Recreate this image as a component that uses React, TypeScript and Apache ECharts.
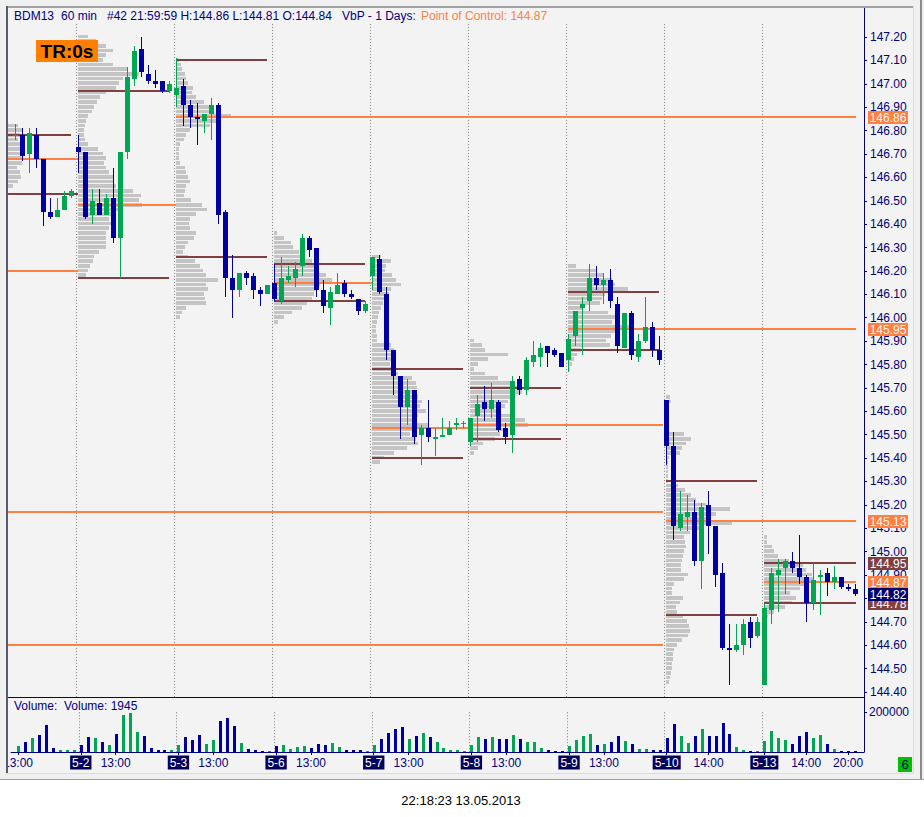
import React, { useEffect, useRef } from 'react';
import * as echarts from 'echarts';

const FONT = '"Liberation Sans", Arial, sans-serif';
const GREEN = '#00a651';
const BLUE = '#0000a0';
const ORANGE = '#ff8040';
const BROWN = '#804040';
const NAVY = '#000080';
const PROFILE_GREY = '#c4c4c4';

// ---- candles (60 min), 5-1 13:00 .. 5-13 21:00 ----
const OPEN = [146.78,146.78,146.70,146.78,146.68,146.45,146.43,146.46,146.52,
146.73,146.71,146.44,146.49,146.44,146.51,146.34,146.71,147.02,147.15,147.04,147.01,147.01,146.97,
146.95,146.99,146.91,146.86,146.84,146.87,146.91,146.45,146.17,146.12,146.19,146.18,146.12,146.10,
146.15,146.07,146.16,146.17,146.22,146.34,146.30,146.12,146.04,146.10,146.15,146.10,146.08,146.03,
146.18,146.25,146.10,145.86,145.75,145.62,145.69,145.50,145.53,145.48,145.49,145.50,145.54,145.55,
145.47,145.58,145.64,145.61,145.64,145.53,145.50,145.74,145.69,145.81,145.83,145.88,145.86,145.85,
145.82,145.92,146.04,146.07,146.17,146.14,146.16,146.06,145.87,146.02,145.83,145.90,145.96,145.86,
145.65,145.45,145.10,145.15,145.17,144.96,145.20,145.11,144.91,144.59,144.58,144.60,144.70,144.64,
144.43,144.75,144.90,144.93,144.96,144.93,144.89,144.78,144.89,144.91,144.87,144.89,144.85,144.84];
const HIGH = [146.83,146.81,146.81,146.81,146.68,146.51,146.51,146.54,146.55,
146.78,146.71,146.55,146.55,146.53,146.64,146.71,147.07,147.16,147.20,147.08,147.06,147.01,147.01,
147.11,147.02,146.93,146.92,146.87,146.94,146.92,146.46,146.27,146.19,146.20,146.19,146.13,146.14,
146.23,146.26,146.22,146.24,146.36,146.35,146.30,146.16,146.13,146.19,146.16,146.12,146.08,146.07,
146.26,146.27,146.13,145.86,145.75,145.74,145.69,145.54,145.65,145.53,145.57,145.56,145.57,145.56,
145.57,145.67,145.71,145.72,145.65,145.55,145.75,145.75,145.83,145.90,145.89,145.88,145.87,145.85,
145.93,146.03,146.09,146.23,146.22,146.19,146.21,146.09,146.02,146.03,145.93,146.09,145.98,145.92,
145.65,145.51,145.26,145.24,145.22,145.21,145.26,145.11,144.95,144.69,144.69,144.71,144.72,144.72,
144.78,144.93,144.97,144.97,145.00,145.07,144.90,144.95,144.92,144.93,144.94,144.89,144.86,144.86];
const LOW = [146.76,146.67,146.62,146.64,146.39,146.42,146.43,146.46,146.51,
146.62,146.42,146.40,146.44,146.44,146.32,146.17,146.68,146.99,147.03,147.00,146.98,146.96,146.96,
146.90,146.82,146.81,146.74,146.79,146.76,146.40,146.09,146.00,146.09,146.14,146.08,146.05,146.10,
146.07,146.06,146.15,146.13,146.18,146.26,146.09,146.02,145.97,146.10,146.09,146.08,146.01,146.02,
146.12,146.10,145.82,145.67,145.48,145.54,145.46,145.37,145.47,145.41,145.49,145.50,145.52,145.53,
145.45,145.47,145.56,145.57,145.51,145.46,145.42,145.67,145.67,145.79,145.79,145.79,145.83,145.79,
145.77,145.88,145.84,146.03,146.12,146.06,146.04,145.85,145.87,145.82,145.81,145.89,145.83,145.80,
145.37,145.05,145.09,145.09,144.94,144.84,144.99,144.85,144.58,144.43,144.57,144.56,144.59,144.63,
144.43,144.69,144.74,144.82,144.91,144.86,144.70,144.75,144.73,144.81,144.84,144.84,144.83,144.81];
const CLOSE = [146.78,146.69,146.79,146.68,146.45,146.43,146.46,146.52,146.54,
146.71,146.43,146.50,146.44,146.51,146.34,146.71,147.03,147.14,147.05,147.01,147.00,146.97,147.00,
146.98,146.91,146.86,146.85,146.87,146.91,146.44,146.17,146.12,146.19,146.17,146.12,146.10,146.14,
146.08,146.17,146.18,146.21,146.34,146.29,146.12,146.05,146.11,146.14,146.10,146.09,146.03,146.06,
146.26,146.11,145.86,145.75,145.62,145.69,145.49,145.53,145.49,145.49,145.50,145.53,145.55,145.55,
145.57,145.63,145.61,145.65,145.52,145.49,145.73,145.69,145.82,145.84,145.87,145.85,145.84,145.79,
145.91,146.03,146.06,146.17,146.14,146.16,146.07,145.88,146.02,145.84,145.90,145.96,145.86,145.82,
145.45,145.11,145.16,145.17,144.96,145.19,145.11,144.90,144.59,144.58,144.60,144.69,144.63,144.70,
144.76,144.91,144.92,144.96,144.93,144.89,144.78,144.88,144.90,144.87,144.89,144.85,144.84,144.82];
const VOLUME = [32000,52000,72000,87000,137000,22000,8000,8000,8000,
37000,77000,72000,52000,37000,92000,187000,197000,102000,82000,22000,12000,12000,8000,
37000,77000,62000,87000,42000,62000,157000,172000,132000,47000,17000,12000,7000,7000,
32000,37000,17000,27000,32000,22000,42000,37000,47000,27000,12000,12000,12000,7000,
37000,67000,97000,117000,127000,67000,82000,97000,77000,52000,22000,12000,8000,7000,
37000,77000,67000,77000,67000,67000,87000,67000,52000,52000,22000,12000,7000,7000,
32000,62000,82000,92000,37000,42000,52000,82000,57000,42000,17000,17000,12000,12000,
72000,142000,82000,47000,82000,117000,82000,82000,147000,92000,27000,12000,7000,7000,
57000,107000,72000,62000,42000,82000,102000,72000,87000,42000,17000,7000,7000,7000];

// ---- days ----
const DAY_NAMES = ['5-1','5-2','5-3','5-6','5-7','5-8','5-9','5-10','5-13'];
const DAY_FIRST_BAR = [0, 9, 23, 37, 51, 65, 79, 93, 107];

// ---- time axis labels ----
const TIME_LABEL_BARS = [0, 9, 14, 23, 28, 37, 42, 51, 56, 65, 70, 79, 84, 93, 99, 107, 113, 119];
const TIME_LABEL_TEXTS = ['13:00','5-2','13:00','5-3','13:00','5-6','13:00','5-7','13:00','5-8','13:00','5-9','13:00','5-10','14:00','5-13','14:00','20:00'];
const PRICE_TICKS = [144.4,144.5,144.6,144.7,144.8,144.9,145.0,145.1,145.2,145.3,145.4,145.5,145.6,145.7,145.8,145.9,146.0,146.1,146.2,146.3,146.4,146.5,146.6,146.7,146.8,146.9,147.0,147.1,147.2];
const VOLUME_TICKS = [200000];

// ---- volume profile per day (hundreds of contracts per 0.02 level, from top price down) ----
const PROFILE_STEP = 0.02;
const PROFILE_TOP = [146.82, 147.20, 147.10, 146.36, 146.26, 145.90, 146.22, 145.66, 145.06];
const PROFILE_5_1 = [10,14,12,10,12,14,13,15,14,9,12,13,10,5];
const PROFILE_5_2 = [10,18,28,35,28,25,35,50,61,45,41,38,28,22,19,16,14,10,8,7,6,6,7,10,20,25,28,26,28,31,35,35,38,55,63,61,64,45,38,31,35,31,28,28,28,28,21,16,15,12,10,8];
const PROFILE_5_3 = [3,5,6,9,10,12,17,16,20,28,33,36,55,40,34,14,10,8,4,3,3,3,4,9,10,12,14,10,9,8,15,26,31,20,14,13,14,20,18,12,9,7,12,19,24,27,30,42,30,32,28,29,30,10,6,4];
const PROFILE_5_6 = [3,10,17,19,25,30,38,45,40,52,58,46,42,40,38,33,28,18,10,4];
const PROFILE_5_7 = [9,19,14,13,20,24,29,19,17,16,11,9,7,6,5,4,4,5,5,19,22,20,24,18,20,26,40,44,45,44,46,50,48,54,46,44,56,42,38,44,46,35,22,12,8];
const PROFILE_5_8 = [4,12,15,38,18,8,4,15,28,40,52,52,42,38,35,31,45,55,58,35,30,25,13,8,4];
const PROFILE_5_9 = [8,28,35,44,47,60,37,34,32,14,40,47,44,62,50,43,38,42,13,9,6,4,2];
const PROFILE_5_10 = [4,5,2,1,1,1,1,1,18,25,20,16,14,3,2,2,2,2,2,12,19,25,30,40,64,50,40,66,34,24,18,19,20,18,17,16,15,15,22,18,8,6,6,17,14,10,11,17,21,23,24,22,16,11,8,7,7,6,6,5,4,3];
const PROFILE_5_13 = [3,3,8,10,14,25,39,42,48,50,45,36,26,32,28,21,10,4];
const PROFILES = [PROFILE_5_1, PROFILE_5_2, PROFILE_5_3, PROFILE_5_6, PROFILE_5_7, PROFILE_5_8, PROFILE_5_9, PROFILE_5_10, PROFILE_5_13];

// ---- levels: POC (0) and value area high/low (1), from bar to bar ----
const LEVEL_PRICE = [146.68,146.20,146.78,146.53,145.17,144.60,146.97,146.17,146.48,147.10,146.26,146.86,146.23,146.07,146.15,145.78,145.40,145.53,145.70,145.48,145.54,146.11,145.86,145.95,145.30,144.73,145.13,144.95,144.78,144.87];
const LEVEL_KIND  = [0,0,1,1,0,0,1,1,0,1,1,0,1,1,0,1,1,0,1,1,0,1,1,0,1,1,0,1,1,0];
const LEVEL_FROM  = [-1,-1,-1,-1,-1,-1,9,9,9,23,23,23,37,37,37,51,51,51,65,65,65,79,79,79,93,93,93,107,107,107];
const LEVEL_TO    = [9,9,8,9,92.6,92.6,22,22,23,36,36,120.1,50,50,51,64,64,65,78,78,92.6,92,92,120.1,106,106,120.1,120.1,120.1,120.1];

// ---- right scale tags: 0 POC, 1 value area, 2 last price ----
const TAG_PRICE = [146.86, 145.95, 145.13, 144.95, 144.87, 144.78, 144.82];
const TAG_KIND = [0, 0, 0, 1, 0, 1, 2];

const X_MIN = -1;
const X_MAX = 121.2857;
const P_MIN = 144.3786;
const P_MAX = 147.324;
const V_MAX = 276500;

export default function App() {
  const ref = useRef<HTMLDivElement>(null);
  useEffect(() => {
    if (!ref.current) return;
    const chart = echarts.init(ref.current, undefined, { renderer: 'svg' });

    const candleData = OPEN.map((o, i) => [i, o, CLOSE[i], LOW[i], HIGH[i]]);
    const volData = VOLUME.map((v, i) => [i, v, CLOSE[i] >= OPEN[i] ? 1 : 0]);
    const profileData: number[][] = [];
    PROFILES.forEach((arr, d) => {
      const start = d === 0 ? X_MIN : DAY_FIRST_BAR[d];
      arr.forEach((v, k) => profileData.push([start, PROFILE_TOP[d] - PROFILE_STEP * k, v]));
    });
    const levelData = LEVEL_PRICE.map((p, i) => [LEVEL_FROM[i], p, LEVEL_TO[i], LEVEL_KIND[i]]);
    const sepData = DAY_FIRST_BAR.slice(1).map((b) => [b - 0.32, 0]);
    const tagData = TAG_PRICE.map((p, i) => [X_MAX, p, TAG_KIND[i]]);

    const txt = (text: string, x: number, y: number, fill: string, size = 12, extra: any = {}) => ({
      type: 'text', z: 100,
      style: { text, x, y, fill, font: `${extra.bold ? 'bold ' : ''}${size}px ${FONT}`, fontSize: size, fontFamily: FONT,
        fontWeight: extra.bold ? 'bold' : 'normal',
        align: extra.align || 'left', textAlign: extra.align || 'left', verticalAlign: 'middle', textVerticalAlign: 'middle' },
    });

    const axisLineStyle = { show: true, onZero: false, lineStyle: { color: NAVY, width: 1 } };

    const option: any = {
      animation: false,
      backgroundColor: '#f0f0f0',
      grid: [
        { left: 8, top: 8, width: 856, height: 689 },
        { left: 8, top: 697, width: 856, height: 55 },
      ],
      xAxis: [
        { type: 'value', gridIndex: 0, min: X_MIN, max: X_MAX, splitLine: { show: false },
          axisLine: axisLineStyle, axisTick: { show: false }, axisLabel: { show: false } },
        { type: 'value', gridIndex: 1, min: X_MIN, max: X_MAX, splitLine: { show: false },
          axisLine: axisLineStyle,
          axisTick: { show: true, customValues: TIME_LABEL_BARS, length: 3, lineStyle: { color: NAVY } },
          axisLabel: {
            show: true, customValues: TIME_LABEL_BARS, margin: 4, hideOverlap: false,
            formatter: (v: number) => {
              const k = TIME_LABEL_BARS.indexOf(Math.round(v));
              if (k < 0) return '';
              const t = TIME_LABEL_TEXTS[k];
              return t.indexOf('-') >= 0 ? `{d|${t}}` : `{t|${t}}`;
            },
            rich: {
              d: { backgroundColor: '#00005c', color: '#ffffff', padding: [1, 2, 1, 2], fontSize: 12, fontFamily: FONT, lineHeight: 13 },
              t: { color: NAVY, fontSize: 12, fontFamily: FONT, lineHeight: 13, padding: [1, 0, 1, 0] },
            },
          } },
      ],
      yAxis: [
        { type: 'value', gridIndex: 0, position: 'right', min: P_MIN, max: P_MAX, splitLine: { show: false },
          axisLine: axisLineStyle,
          axisTick: { show: true, customValues: PRICE_TICKS, length: 3, lineStyle: { color: NAVY } },
          axisLabel: { show: true, customValues: PRICE_TICKS, margin: 6, color: NAVY, fontSize: 12, fontFamily: FONT,
            formatter: (v: number) => v.toFixed(2) } },
        { type: 'value', gridIndex: 1, position: 'right', min: 0, max: V_MAX, splitLine: { show: false },
          axisLine: axisLineStyle,
          axisTick: { show: true, customValues: VOLUME_TICKS, length: 3, lineStyle: { color: NAVY } },
          axisLabel: { show: true, customValues: VOLUME_TICKS, margin: 5, color: NAVY, fontSize: 12, fontFamily: FONT,
            formatter: (v: number) => String(Math.round(v)) } },
      ],
      series: [
        { type: 'custom', name: 'profile', xAxisIndex: 0, yAxisIndex: 0, z: 2, data: profileData,
          renderItem: (_p: any, api: any) => {
            const s = api.value(0), pr = api.value(1), v = api.value(2);
            const a = api.coord([s, pr + PROFILE_STEP / 2]);
            const b = api.coord([s, pr - PROFILE_STEP / 2]);
            const y0 = Math.round(a[1]), y1 = Math.round(b[1]);
            return { type: 'rect', shape: { x: Math.round(a[0]), y: y0, width: v, height: Math.max(1, y1 - y0 - 1) },
              style: { fill: PROFILE_GREY } };
          } },
        { type: 'custom', name: 'sepPrice', xAxisIndex: 0, yAxisIndex: 0, z: 2, data: sepData,
          renderItem: (_p: any, api: any) => {
            const a = api.coord([api.value(0), 147.256]);
            const b = api.coord([api.value(0), P_MIN]);
            const x = Math.round(a[0]) + 0.5;
            return { type: 'line', shape: { x1: x, y1: a[1], x2: x, y2: b[1] }, style: { stroke: '#808080', lineWidth: 1, lineDash: [1, 2] } };
          } },
        { type: 'custom', name: 'sepVol', xAxisIndex: 1, yAxisIndex: 1, z: 2, data: sepData,
          renderItem: (_p: any, api: any) => {
            const a = api.coord([api.value(0), 200000]);
            const b = api.coord([api.value(0), 0]);
            const x = Math.round(a[0]) + 0.5;
            return { type: 'line', shape: { x1: x, y1: a[1], x2: x, y2: b[1] }, style: { stroke: '#808080', lineWidth: 1, lineDash: [1, 2] } };
          } },
        { type: 'custom', name: 'levels', xAxisIndex: 0, yAxisIndex: 0, z: 3, data: levelData,
          renderItem: (_p: any, api: any) => {
            const a = api.coord([api.value(0), api.value(1)]);
            const b = api.coord([api.value(2), api.value(1)]);
            const x0 = Math.round(a[0]), x1 = Math.round(b[0]);
            return { type: 'rect', shape: { x: x0, y: Math.round(a[1]) - 1, width: x1 - x0, height: 2 },
              style: { fill: api.value(3) === 0 ? ORANGE : BROWN } };
          } },
        { type: 'custom', name: 'candles', xAxisIndex: 0, yAxisIndex: 0, z: 4, data: candleData,
          renderItem: (_p: any, api: any) => {
            const i = api.value(0), o = api.value(1), c = api.value(2), l = api.value(3), h = api.value(4);
            const po = api.coord([i, o]), pc = api.coord([i, c]), pl = api.coord([i, l]), ph = api.coord([i, h]);
            const cx = Math.round(po[0]);
            const top = Math.round(Math.min(po[1], pc[1]));
            const bot = Math.round(Math.max(po[1], pc[1]));
            const yh = Math.round(ph[1]), yl = Math.round(pl[1]);
            const color = c >= o ? GREEN : BLUE;
            return { type: 'group', children: [
              { type: 'rect', shape: { x: cx, y: yh, width: 1, height: Math.max(1, yl - yh) }, style: { fill: color } },
              { type: 'rect', shape: { x: cx - 2, y: top, width: 5, height: Math.max(1, bot - top) }, style: { fill: color } },
            ] };
          } },
        { type: 'custom', name: 'volume', xAxisIndex: 1, yAxisIndex: 1, z: 4, data: volData,
          renderItem: (_p: any, api: any) => {
            const a = api.coord([api.value(0), api.value(1)]);
            const b = api.coord([api.value(0), 0]);
            const cx = Math.round(a[0]);
            const y0 = Math.round(a[1]), y1 = Math.round(b[1]);
            return { type: 'rect', shape: { x: cx - 1, y: y0, width: 3, height: Math.max(1, y1 - y0) },
              style: { fill: api.value(2) === 1 ? GREEN : BLUE } };
          } },
        { type: 'custom', name: 'tags', xAxisIndex: 0, yAxisIndex: 0, z: 6, clip: false, data: tagData,
          renderItem: (_p: any, api: any) => {
            const pr = api.value(1), k = api.value(2);
            const p = api.coord([X_MAX, pr]);
            const x = Math.round(p[0]) + 4, y = Math.round(p[1]);
            const fill = k === 0 ? ORANGE : k === 1 ? BROWN : '#000070';
            return { type: 'group', children: [
              { type: 'rect', shape: { x, y: y - 6, width: 40, height: 13 }, style: { fill } },
              { type: 'text', style: { text: pr.toFixed(2), x: x + 20, y: y + 0.5, fill: k === 0 ? '#fff4ec' : '#ffffff',
                font: `12px ${FONT}`, fontSize: 12, fontFamily: FONT, align: 'center', textAlign: 'center', verticalAlign: 'middle', textVerticalAlign: 'middle' } },
            ] };
          } },
      ],
      graphic: [
        { type: 'rect', z: -10, shape: { x: 8, y: 8, width: 905, height: 765 }, style: { fill: '#f3f3f3' } },
        { type: 'rect', z: 50, shape: { x: 0, y: 750, width: 7, height: 25 }, style: { fill: '#f0f0f0' } },
        { type: 'rect', z: 60, shape: { x: 6, y: 6, width: 908, height: 2 }, style: { fill: '#a0a0a0' } },
        { type: 'rect', z: 60, shape: { x: 6, y: 6, width: 2, height: 768 }, style: { fill: '#5a5a6a' } },
        { type: 'rect', z: 60, shape: { x: 913, y: 6, width: 1, height: 768 }, style: { fill: '#dcdcdc' } },
        { type: 'rect', z: 60, shape: { x: 6, y: 773, width: 908, height: 1 }, style: { fill: '#dcdcdc' } },
        { type: 'rect', z: 60, shape: { x: 920, y: 0, width: 2, height: 779 }, style: { fill: '#8a8a8a' } },
        { type: 'rect', z: 60, shape: { x: 0, y: 779, width: 924, height: 38 }, style: { fill: '#ffffff' } },
        { type: 'rect', z: 61, shape: { x: 0, y: 779, width: 924, height: 1 }, style: { fill: '#a0a0a0' } },
        txt('BDM13', 14, 16, NAVY),
        txt('60 min', 61, 16, NAVY),
        txt('#42 21:59:59 H:144.86 L:144.81 O:144.84', 107, 16, NAVY),
        txt('VbP - 1 Days:', 342, 16, NAVY),
        txt('Point of Control: 144.87', 421, 16, ORANGE),
        { type: 'rect', z: 99, shape: { x: 36, y: 40, width: 62, height: 22 }, style: { fill: '#ff8000' } },
        txt('TR:0s', 67, 51.5, '#000000', 19, { bold: true, align: 'center' }),
        txt('Volume:', 14, 705.5, NAVY),
        txt('Volume: 1945', 64, 705.5, NAVY),
        { type: 'rect', z: 99, shape: { x: 898, y: 757, width: 14, height: 15 }, style: { fill: '#00c000' } },
        txt('6', 905, 764.5, '#000060', 13, { align: 'center' }),
        txt('22:18:23 13.05.2013', 461, 800, '#000000', 13, { align: 'center' }),
      ],
    };
    chart.setOption(option);
    return () => chart.dispose();
  }, []);
  return <div ref={ref} style={{ position: 'absolute', left: 0, top: 0, width: 924, height: 817 }} />;
}
